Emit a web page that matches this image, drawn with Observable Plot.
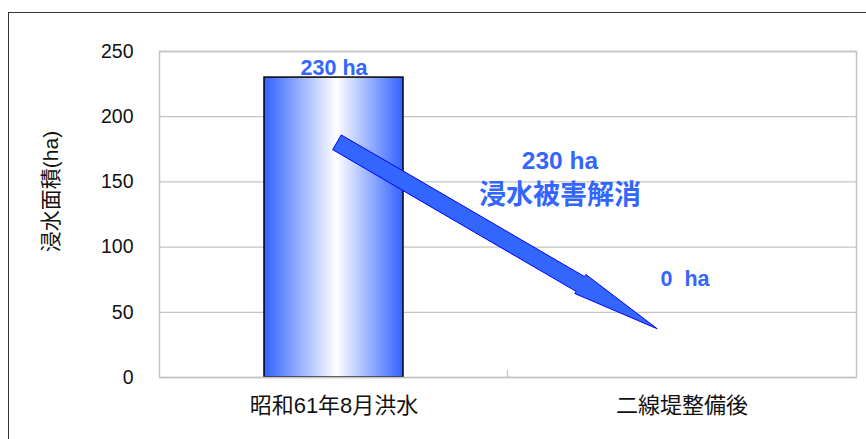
<!DOCTYPE html>
<html>
<head>
<meta charset="utf-8">
<script src="https://cdn.jsdelivr.net/npm/d3@7"></script>
<script src="https://cdn.jsdelivr.net/npm/@observablehq/plot@0.6"></script>
<style>
  body { margin: 0; background: #fff; }
  #wrap { position: relative; width: 866px; height: 439px; overflow: hidden; }
  #border { position: absolute; left: 8px; top: 12px; width: 900px; height: 500px;
            border-top: 1px solid #333; border-left: 1px solid #333; }
  #chart { position: absolute; left: 0; top: 0; }
</style>
</head>
<body>
<div id="wrap"><div id="border"></div><div id="chart"></div></div>
<svg width="0" height="0" style="position:absolute">
  <defs>
    <linearGradient id="barShade" x1="0" x2="1" y1="0" y2="0">
      <stop offset="0" stop-color="#3162ff"/>
      <stop offset="0.52" stop-color="#ffffff"/>
      <stop offset="1" stop-color="#3162ff"/>
    </linearGradient>
  </defs>
</svg>
<script>
// Flooded area before and after the secondary levee
const categories = ["昭和61年8月洪水", "二線堤整備後"];
const areas = [230, 0];
const yTicks = [0, 50, 100, 150, 200, 250];
const yTitle = "浸水面積(ha)";
const reliefCaption = "浸水被害解消";

// Arrow from the flood bar down toward the post-levee category:
// category, shift from the category centre (fraction of the category step), area value
const arrowTail = {category: categories[0], shift: 0.01, value: 180};
const arrowHead = {category: categories[1], shift: -0.07, value: 37};

const blue = "#3366ff";
const font = '"Liberation Sans", "Noto Sans CJK JP", sans-serif';

const rows = categories.map((c, i) => ({category: c, area: areas[i]}));
const areaLabel = d => `${d.area}${"\u00a0".repeat(d.area < 10 ? 2 : 1)}ha`;
const reduction = areas[0] - areas[1];

const plot = Plot.plot({
  width: 866,
  height: 439,
  marginLeft: 159,
  marginRight: 10,
  marginTop: 51,
  marginBottom: 62,
  style: {fontFamily: font, background: "transparent", color: "#111", overflow: "visible"},
  x: {domain: categories, paddingInner: 0.6, paddingOuter: 0.3, label: null},
  y: {domain: [0, 250], label: null},
  marks: [
    Plot.gridY(yTicks, {stroke: "#c4c4c4", strokeOpacity: 1, strokeWidth: 1.3}),
    Plot.barY(rows.filter(d => d.area > 0), {
      x: "category", y: "area", fill: "url(#barShade)", stroke: "#000", strokeWidth: 1.5
    }),
    Plot.frame({stroke: "#c4c4c4", strokeWidth: 1.5}),
    Plot.axisY(yTicks, {tickSize: 0, tickPadding: 26, fontSize: 19.5, label: null}),
    Plot.axisX({tickSize: 0, tickPadding: 20, fontSize: 22, label: null}),
    Plot.text([yTitle], {
      frameAnchor: "left", rotate: -90, dx: -108, dy: -23,
      fontSize: 21, fill: "#111", textAnchor: "middle"
    }),
    // value labels
    Plot.text(rows.slice(0, 1), {
      x: "category", y: "area", text: areaLabel, lineAnchor: "bottom", dy: -3,
      fill: blue, fontWeight: "bold", fontSize: 21.5
    }),
    Plot.text(rows.slice(1), {
      x: "category", y: "area", text: areaLabel, lineAnchor: "bottom", dx: 3, dy: -92,
      fill: blue, fontWeight: "bold", fontSize: 21.5
    }),
    // relief annotation
    Plot.text([{category: categories[1], value: 160}], {
      x: "category", y: "value", text: () => `${reduction} ha`, lineAnchor: "bottom",
      dx: -122, fill: blue, fontWeight: "bold", fontSize: 24.5
    }),
    Plot.text([{category: categories[1], value: 160}], {
      x: "category", y: "value", text: () => reliefCaption, lineAnchor: "bottom",
      dx: -122, dy: 35, fill: blue, fontWeight: "bold", fontSize: 27
    })
  ]
});

document.getElementById("chart").appendChild(plot);

// Block arrow and category divider tick, positioned through the plot's scales
const xs = plot.scale("x");
const ys = plot.scale("y");
const bw = xs.bandwidth;
const step = bw / (1 - 0.6);
const px = p => xs.apply(p.category) + bw / 2 + p.shift * step;
const T = [px(arrowTail), ys.apply(arrowTail.value)];
const P = [px(arrowHead), ys.apply(arrowHead.value)];
const L = Math.hypot(P[0] - T[0], P[1] - T[1]);
const u = [(P[0] - T[0]) / L, (P[1] - T[1]) / L];
const n = [-u[1], u[0]];
const w = 8.5, hw = 11, hl = 0.24 * L;
const H = [P[0] - u[0] * hl, P[1] - u[1] * hl];
const off = (pt, k) => [pt[0] + n[0] * k, pt[1] + n[1] * k];
const pts = [off(T, w), off(H, w), off(H, hw), P, off(H, -hw), off(H, -w), off(T, -w)];

const svg = d3.select(plot);
svg.append("polygon")
  .attr("points", pts.map(p => p.join(",")).join(" "))
  .attr("fill", blue)
  .attr("stroke", "#0000ff")
  .attr("stroke-width", 1)
  .attr("stroke-linejoin", "miter");

const mid = (xs.apply(categories[0]) + xs.apply(categories[1])) / 2 + bw / 2;
svg.append("line")
  .attr("x1", mid).attr("x2", mid)
  .attr("y1", ys.apply(0) - 7).attr("y2", ys.apply(0))
  .attr("stroke", "#c4c4c4").attr("stroke-width", 1.3);
</script>
</body>
</html>
